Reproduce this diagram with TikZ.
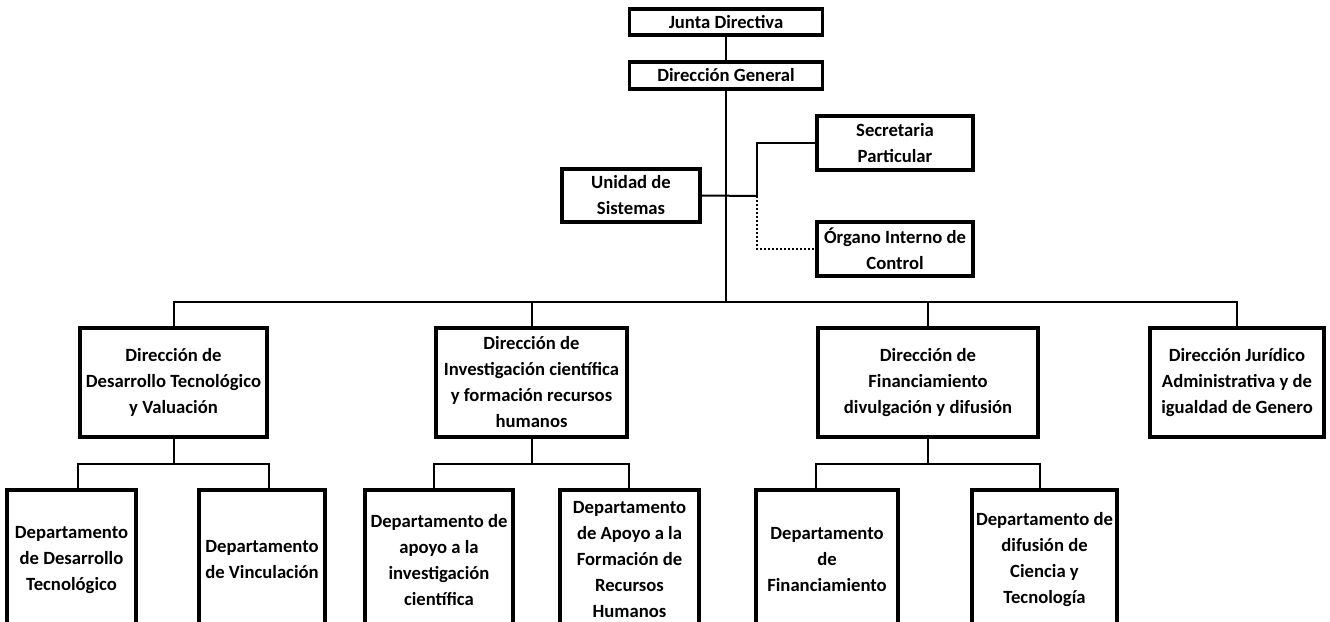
\documentclass[tikz,border=0pt]{standalone}
\usepackage{fontspec}
\setmainfont{Carlito}
\begin{document}
\begin{tikzpicture}[x=0.75pt,y=-0.75pt,
		box/.style={draw,line width=2.6pt,align=center,inner sep=0pt,font=\fontsize{14}{19.5}\selectfont\bfseries},
		link/.style={line width=1.5pt}]
			\useasboundingbox (0,0) rectangle (1330,621);
			\clip (0,0) rectangle (1330,621);

			\node (jd) at (726,22)[box,minimum width=144.75pt,minimum height=19.5pt]{Junta Directiva};
			\node (dg) at (726,75.5)[box,minimum width=144.75pt,minimum height=20.25pt]{Dirección General};
			\node (sp) at (895,143)[box,minimum width=117pt,minimum height=40.5pt]{Secretaria\\Particular};
			\node (us) at (631,195.5)[box,minimum width=103.5pt,minimum height=39.75pt]{Unidad de\\Sistemas};
			\node (oic) at (895,249)[box,minimum width=117pt,minimum height=40.5pt]{Órgano Interno de\\Control};

			\node (d1) at (173.5,382.5)[box,minimum width=140.25pt,minimum height=81.75pt]{Dirección de\\Desarrollo Tecnológico\\y Valuación};
			\node (d2) at (531.5,382.5)[box,minimum width=143.25pt,minimum height=81.75pt]{Dirección de\\Investigación científica\\y formación recursos\\humanos};
			\node (d3) at (928,382.5)[box,minimum width=165pt,minimum height=81.75pt]{Dirección de\\Financiamiento\\divulgación y difusión};
			\node (d4) at (1237,382.5)[box,minimum width=130.5pt,minimum height=81.75pt]{Dirección Jurídico\\Administrativa y de\\igualdad de Genero};

			\node (e1) at (71.5,560)[box,minimum width=96.75pt,minimum height=105pt]{Departamento\\de Desarrollo\\Tecnológico};
			\node (e2) at (262,560)[box,minimum width=94.5pt,minimum height=105pt]{Departamento\\de Vinculación};
			\node (e3) at (439,560)[box,minimum width=111pt,minimum height=105pt]{Departamento de\\apoyo a la\\investigación\\científica};
			\node (e4) at (629.5,560)[box,minimum width=104.25pt,minimum height=105pt]{Departamento\\de Apoyo a la\\Formación de\\Recursos\\Humanos};
			\node (e5) at (827,560)[box,minimum width=106.5pt,minimum height=105pt]{Departamento\\de\\Financiamiento};
			\node (e6) at (1044.5,560)[box,minimum width=108.75pt,minimum height=105pt]{Departamento de\\difusión de\\Ciencia y\\Tecnología};

			\coordinate (br) at (757,196);
			\coordinate (bus) at (726,302);

			\draw[link] (jd) -- (dg);
			\draw[link] (dg) -- (bus);
			\draw[link] (us.east) -- (br);
			\draw[link] (br) |- (sp.west);
			\draw[link,dash pattern=on 1.5pt off 1.5pt] (br) |- (oic.west);

			\draw[link] (d1.north) |- (bus) -| (d4.north);
			\draw[link] (d2.north) |- (bus);
			\draw[link] (d3.north) |- (bus);

			\foreach \d/\a/\b in {d1/e1/e2,d2/e3/e4,d3/e5/e6}{
				\coordinate (j) at (0,464);
				\draw[link] (\d.south) -- (\d.south |- j);
				\draw[link] (\d.west |- \a.north) -- (\d.west |- j) -- (\d.east |- j) -- (\d.east |- \b.north);
			}
		\end{tikzpicture}
\end{document}
